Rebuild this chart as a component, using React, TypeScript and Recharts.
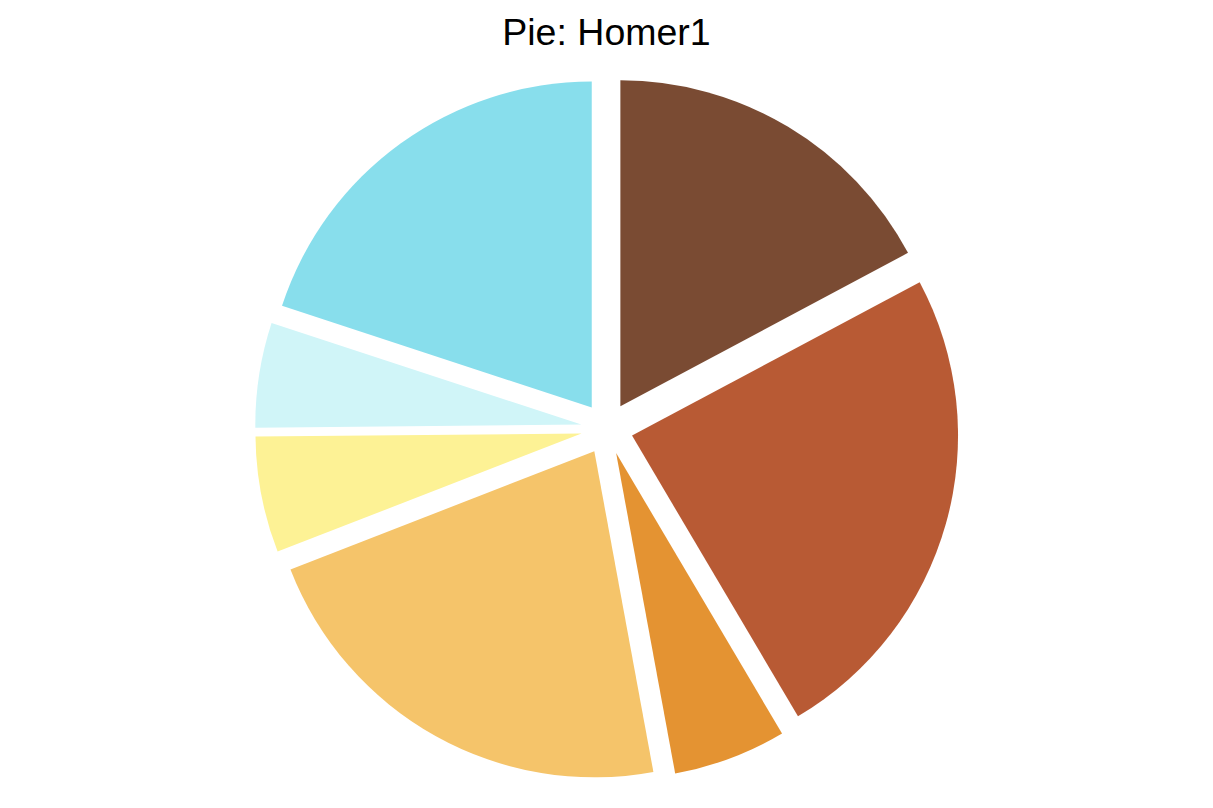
import React from "react";
import { PieChart, Pie, Cell } from "recharts";

// slice values (share of the pie, %), clockwise from 12 o'clock
const categories = ["A", "B", "C", "D", "E", "F", "G"];
const values = [17.2, 24.3, 5.6, 22.0, 5.75, 5.2, 19.95];
const colors = ["#7A4B33", "#B85A34", "#E49332", "#F5C46A", "#FDF295", "#D0F5F8", "#88DEEC"];

const data = categories.map((name, i) => ({ name, value: values[i] }));

const WIDTH = 1213;
const HEIGHT = 808;
const CX = 607;
const CY = 428.6;
const RADIUS = 326;
const EXPLODE = 26;

// mid angle of each slice, degrees clockwise from the top
const total = values.reduce((a, b) => a + b, 0);
const midAngles = values.map((v, i) => {
  const before = values.slice(0, i).reduce((a, b) => a + b, 0);
  return ((before + v / 2) / total) * 360;
});

export default function App() {
  return (
    <div
      style={{
        position: "absolute",
        left: 0,
        top: 0,
        width: WIDTH,
        height: HEIGHT,
        background: "#fff",
      }}
    >
      <div
        style={{
          position: "absolute",
          left: 0,
          top: 13.5,
          width: WIDTH,
          textAlign: "center",
          fontFamily: "'Liberation Sans', Arial, sans-serif",
          fontSize: 37.5,
          lineHeight: "37.5px",
          color: "#000",
        }}
      >
        Pie: Homer1
      </div>
      <PieChart width={WIDTH} height={HEIGHT} margin={{ top: 0, right: 0, bottom: 0, left: 0 }}>
        {data.map((_, i) => {
          // each slice pushed out along its own mid angle
          const rad = (midAngles[i] * Math.PI) / 180;
          const dx = EXPLODE * Math.sin(rad);
          const dy = -EXPLODE * Math.cos(rad);
          return (
            <Pie
              key={i}
              data={data}
              dataKey="value"
              nameKey="name"
              cx={CX + dx}
              cy={CY + dy}
              outerRadius={RADIUS}
              startAngle={90}
              endAngle={-270}
              stroke="none"
              isAnimationActive={false}
              labelLine={false}
            >
              {data.map((_, j) => (
                <Cell key={j} fill={j === i ? colors[j] : "transparent"} />
              ))}
            </Pie>
          );
        })}
      </PieChart>
    </div>
  );
}
